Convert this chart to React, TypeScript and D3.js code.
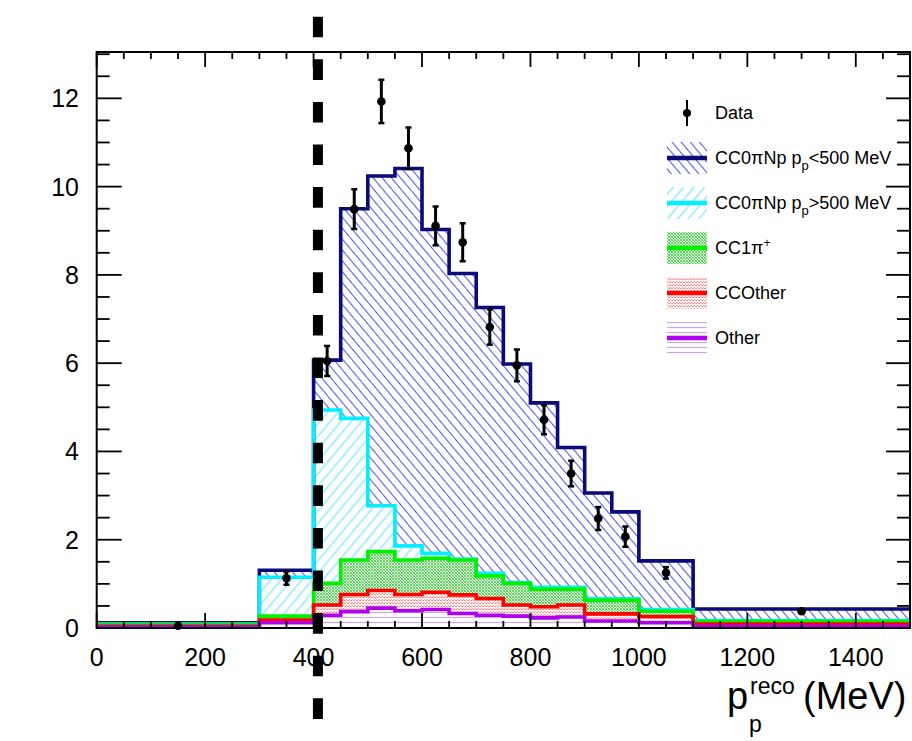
import React from "react";
import * as d3 from "d3";

// ---- data ----
const binEdges = [0, 300, 400, 450, 500, 550, 600, 650, 700, 750, 800, 850, 900, 950, 1000, 1100, 1500];
// per-component contributions (stacked bottom -> top)
const otherVals = [0.02, 0.12, 0.29, 0.37, 0.45, 0.39, 0.42, 0.33, 0.29, 0.27, 0.23, 0.25, 0.16, 0.16, 0.12, 0.04];
const ccOtherVals = [0.02, 0.06, 0.23, 0.39, 0.4, 0.37, 0.39, 0.42, 0.38, 0.25, 0.25, 0.27, 0.16, 0.16, 0.14, 0.05];
const cc1piVals = [0.04, 0.09, 0.49, 0.78, 0.88, 0.78, 0.77, 0.79, 0.51, 0.49, 0.4, 0.36, 0.31, 0.31, 0.12, 0.06];
const cc0piHighVals = [0.01, 0.88, 3.93, 3.21, 1.04, 0.32, 0.11, 0.02, 0.06, 0.02, 0.04, 0.04, 0.03, 0.03, 0.04, 0.02];
const cc0piLowVals = [0.03, 0.16, 1.13, 4.75, 7.47, 8.55, 7.34, 6.47, 6.02, 4.95, 4.18, 3.17, 2.4, 1.97, 1.1, 0.26];
const dataVals = [0.05, 1.13, 6.05, 9.49, 11.93, 10.87, 9.11, 8.74, 6.82, 5.95, 4.72, 3.5, 2.48, 2.07, 1.25, 0.38];
const dataErrs = [0.03, 0.15, 0.34, 0.45, 0.49, 0.47, 0.44, 0.43, 0.4, 0.36, 0.33, 0.29, 0.26, 0.23, 0.13, 0.04];
const cutValue = 408;
const xTickLabels = [0, 200, 400, 600, 800, 1000, 1200, 1400];
const yTickLabels = [0, 2, 4, 6, 8, 10, 12];

const series = [
  { key: "other", vals: otherVals, line: "#b000f0", fill: "url(#purpleLines)" },
  { key: "ccother", vals: ccOtherVals, line: "#ff0000", fill: "url(#redDots)" },
  { key: "cc1pi", vals: cc1piVals, line: "#00f000", fill: "url(#greenDither)" },
  { key: "high", vals: cc0piHighVals, line: "#00f0ff", fill: "url(#cyanHatch)" },
  { key: "low", vals: cc0piLowVals, line: "#0a0a78", fill: "url(#blueHatch)" },
];

const FONT = "'Liberation Sans', Arial, Helvetica, sans-serif";

export default function App() {
  const W = 912, H = 741;
  const x = d3.scaleLinear().domain([0, 1500]).range([96.7, 910]);
  const y = d3.scaleLinear().domain([0, 13.05]).range([628, 52]);

  // cumulative stacks
  const cums: number[][] = [];
  let acc = binEdges.slice(1).map(() => 0);
  series.forEach((s) => {
    const lower = acc.slice();
    acc = acc.map((a, i) => a + s.vals[i]);
    cums.push(lower);
    cums.push(acc.slice());
  });

  const stepPts = (vals: number[]) => {
    const pts: [number, number][] = [];
    vals.forEach((v, i) => {
      pts.push([binEdges[i], v]);
      pts.push([binEdges[i + 1], v]);
    });
    return pts;
  };
  const line = d3.line<[number, number]>().x((d) => x(d[0])).y((d) => y(d[1]));
  const bandPath = (lo: number[], hi: number[]) => {
    const area = d3
      .area<[number, number, number]>()
      .x((d) => x(d[0]))
      .y0((d) => y(d[1]))
      .y1((d) => y(d[2]));
    const pts: [number, number, number][] = [];
    hi.forEach((v, i) => {
      pts.push([binEdges[i], lo[i], v]);
      pts.push([binEdges[i + 1], lo[i], v]);
    });
    return area(pts) || "";
  };

  const bands = series.map((s, k) => ({ ...s, lo: cums[2 * k], hi: cums[2 * k + 1] }));

  const yMinor = d3.range(0, 13.01, 0.5);
  const xMinor = d3.range(0, 1501, 50);

  const centers = binEdges.slice(0, -1).map((e, i) => (e + binEdges[i + 1]) / 2);

  const legendX = 667;
  const legendY = [113, 158, 203, 248, 293, 338];

  return (
    <svg width={W} height={H} style={{ position: "absolute", left: 0, top: 0, background: "#fff" }} fontFamily={FONT}>
      <defs>
        <pattern id="blueHatch" patternUnits="userSpaceOnUse" width={7} height={7} patternTransform="rotate(-40)">
          <line x1={3.5} y1={-1} x2={3.5} y2={8} stroke="#5a5ae6" strokeWidth={1.1} />
        </pattern>
        <pattern id="cyanHatch" patternUnits="userSpaceOnUse" width={8} height={8} patternTransform="rotate(40)">
          <line x1={4} y1={-1} x2={4} y2={9} stroke="#66e4ff" strokeWidth={1.1} />
        </pattern>
        <pattern id="greenDither" patternUnits="userSpaceOnUse" width={3} height={3}>
          <rect x={0} y={0} width={3} height={3} fill="#eefcee" shapeRendering="crispEdges" />
          <rect x={0} y={0} width={1} height={1} fill="#44d044" shapeRendering="crispEdges" />
          <rect x={2} y={0} width={1} height={1} fill="#77dd77" shapeRendering="crispEdges" />
          <rect x={1} y={1} width={1} height={1} fill="#44d044" shapeRendering="crispEdges" />
          <rect x={0} y={2} width={1} height={1} fill="#77dd77" shapeRendering="crispEdges" />
          <rect x={2} y={2} width={1} height={1} fill="#44d044" shapeRendering="crispEdges" />
        </pattern>
        <pattern id="redDots" patternUnits="userSpaceOnUse" width={3} height={3}>
          <rect x={0} y={0} width={3} height={3} fill="#fff4f4" shapeRendering="crispEdges" />
          <rect x={0} y={0} width={1} height={1} fill="#ff7a7a" shapeRendering="crispEdges" />
          <rect x={2} y={0} width={1} height={1} fill="#ffa0a0" shapeRendering="crispEdges" />
          <rect x={1} y={2} width={1} height={1} fill="#ff9a9a" shapeRendering="crispEdges" />
        </pattern>
        <pattern id="purpleLines" patternUnits="userSpaceOnUse" width={6} height={5}>
          <line x1={0} y1={2.5} x2={6} y2={2.5} stroke="#cba8ee" strokeWidth={1.2} />
        </pattern>
      </defs>

      {/* fills */}
      {bands.map((b) => (
        <path key={"f" + b.key} d={bandPath(b.lo, b.hi)} fill={b.fill} stroke="none" />
      ))}

      {/* outlines, top-most first so lower histograms draw over */}
      {bands
        .slice()
        .reverse()
        .map((b) => (
          <path
            key={"l" + b.key}
            d={line(stepPts(b.hi)) || ""}
            fill="none"
            stroke={b.line}
            strokeWidth={3.6}
            strokeLinejoin="miter"
          />
        ))}

      {/* frame */}
      <rect x={x(0)} y={y(13.05)} width={x(1500) - x(0)} height={y(0) - y(13.05)} fill="none" stroke="#000" strokeWidth={2} />

      {/* y ticks */}
      {yMinor.map((v) => {
        const major = Math.abs(v % 2) < 1e-6;
        return (
          <g key={"yt" + v}>
            <line x1={x(0)} x2={x(0) + (major ? 25 : 13)} y1={y(v)} y2={y(v)} stroke="#000" strokeWidth={1.8} />
            <line x1={x(1500)} x2={x(1500) - (major ? 24 : 13)} y1={y(v)} y2={y(v)} stroke="#000" strokeWidth={1.8} />
          </g>
        );
      })}
      {/* x ticks */}
      {xMinor.map((v) => {
        const major = v % 200 === 0;
        return (
          <g key={"xt" + v}>
            <line x1={x(v)} x2={x(v)} y1={y(0)} y2={y(0) - (major ? 15 : 7)} stroke="#000" strokeWidth={1.8} />
            <line x1={x(v)} x2={x(v)} y1={y(13.05)} y2={y(13.05) + (major ? 15 : 7)} stroke="#000" strokeWidth={1.8} />
          </g>
        );
      })}

      {/* tick labels */}
      {yTickLabels.map((v) => (
        <text key={"yl" + v} x={79} y={y(v)} dy="0.36em" textAnchor="end" fontSize={25} fill="#000">
          {v}
        </text>
      ))}
      {xTickLabels.map((v) => (
        <text key={"xl" + v} x={x(v)} y={666} textAnchor="middle" fontSize={25} fill="#000">
          {v}
        </text>
      ))}

      {/* axis title */}
      <text x={727} y={709} fontSize={38} fill="#000">p</text>
      <text x={750} y={694} fontSize={23} fill="#000">reco</text>
      <text x={749} y={732} fontSize={23} fill="#000">p</text>
      <text x={803} y={709} fontSize={38} fill="#000">(MeV)</text>

      {/* data points */}
      {dataVals.map((v, i) => {
        const cx = x(centers[i]);
        const e = dataErrs[i];
        return (
          <g key={"d" + i}>
            <line x1={cx} x2={cx} y1={y(v - e)} y2={y(v + e)} stroke="#000" strokeWidth={3} />
            <line x1={cx - 3} x2={cx + 3} y1={y(v - e)} y2={y(v - e)} stroke="#000" strokeWidth={2.5} />
            <line x1={cx - 3} x2={cx + 3} y1={y(v + e)} y2={y(v + e)} stroke="#000" strokeWidth={2.5} />
            <circle cx={cx} cy={y(v)} r={4.3} fill="#000" />
          </g>
        );
      })}

      {/* cut line */}
      <line
        x1={x(cutValue)}
        x2={x(cutValue)}
        y1={16.7}
        y2={719.5}
        stroke="#000"
        strokeWidth={10}
        strokeDasharray="20.6 22"
      />

      {/* legend */}
      <g fontSize={18} fill="#000">
        <line x1={legendX + 20} x2={legendX + 20} y1={legendY[0] - 13} y2={legendY[0] + 13} stroke="#000" strokeWidth={2} />
        <circle cx={legendX + 20} cy={legendY[0]} r={4} fill="#000" />
        <text x={715} y={legendY[0]} dy="0.35em">Data</text>

        {[
          { fill: "url(#blueHatch)", line: "#0a0a78" },
          { fill: "url(#cyanHatch)", line: "#00f0ff" },
          { fill: "url(#greenDither)", line: "#00f000" },
          { fill: "url(#redDots)", line: "#ff0000" },
          { fill: "url(#purpleLines)", line: "#b000f0" },
        ].map((s, i) => (
          <g key={"lg" + i}>
            <rect x={legendX} y={legendY[i + 1] - 16} width={40} height={32} fill={s.fill} />
            <line x1={legendX} x2={legendX + 40} y1={legendY[i + 1]} y2={legendY[i + 1]} stroke={s.line} strokeWidth={4.5} />
          </g>
        ))}

        <text x={715} y={legendY[1]} dy="0.35em">
          CC0πNp p<tspan fontSize={13} dy={6}>p</tspan><tspan dy={-6}>&lt;500 MeV</tspan>
        </text>
        <text x={715} y={legendY[2]} dy="0.35em">
          CC0πNp p<tspan fontSize={13} dy={6}>p</tspan><tspan dy={-6}>&gt;500 MeV</tspan>
        </text>
        <text x={715} y={legendY[3]} dy="0.35em">
          CC1π<tspan fontSize={12} dy={-7}>+</tspan>
        </text>
        <text x={715} y={legendY[4]} dy="0.35em">CCOther</text>
        <text x={715} y={legendY[5]} dy="0.35em">Other</text>
      </g>
    </svg>
  );
}
